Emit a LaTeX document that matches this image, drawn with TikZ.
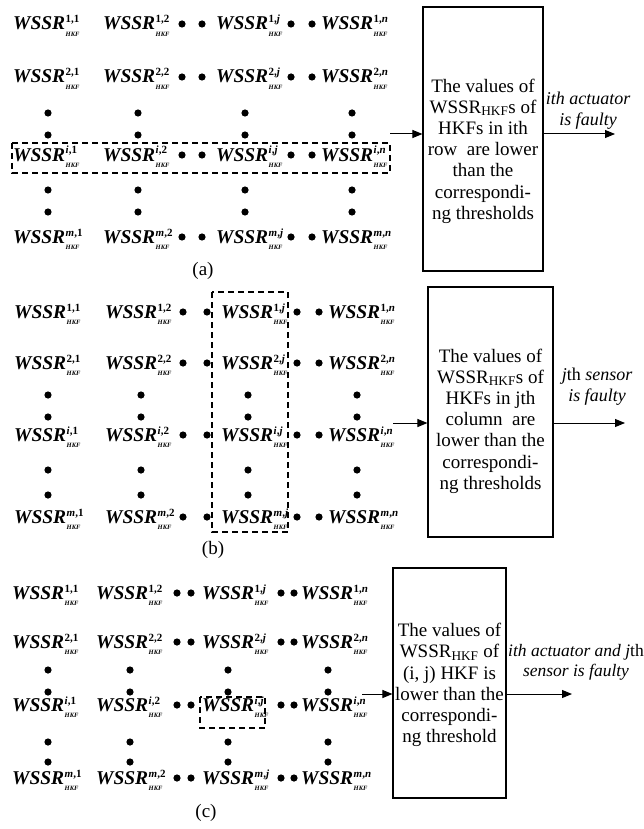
\documentclass[tikz,border=0pt]{standalone}
\usepackage{fontspec}
\setmainfont{Liberation Serif}
\usetikzlibrary{arrows.meta}
\newcommand\wsfont{\fontsize{19.5}{19.5}\selectfont}
\newcommand\ws[1]{\textbf{\textit{WSSR}}\kern0.5pt\rlap{\raisebox{7pt}{\fontsize{11}{11}\selectfont\bfseries #1}}\raisebox{-6.5pt}{\fontsize{6.5}{6.5}\selectfont\bfseries\itshape HKF}}
\begin{document}
\begin{tikzpicture}[x=1pt,y=-1pt,
  wsn/.style={anchor=base west,inner sep=0pt,font=\wsfont},
  dotf/.style={fill=black},
  selbox/.style={draw,dash pattern=on 6pt off 4pt,line width=1.1pt},
  bigbox/.style={draw,line width=1.1pt,inner sep=0pt},
  boxtext/.style={align=center,inner sep=0pt,font=\fontsize{19}{21.2}\selectfont},
  arr/.style={line width=1pt,-{Triangle[length=10pt,width=8pt]}},
  lab/.style={align=center,inner sep=0pt,font=\fontsize{18}{21}\selectfont\itshape},
  captext/.style={inner sep=0pt,font=\fontsize{19}{19}\selectfont}]
\useasboundingbox (0,0) rectangle (643,829);

% ---------------- panel (a)
\foreach \r/\rs/\y in {1/1/30, 2/2/83, i/{\textit{i}}/161, m/{\textit{m}}/243} {
  \foreach \c/\cs/\x in {1/1/13, 2/2/103, j/{\textit{j}}/216, n/{\textit{n}}/321}
    \node[wsn] (a-\r-\c) at (\x,\y) {\ws{\rs,\cs}};
  \foreach \x in {182,202,291,312} \fill[dotf] (\x,\y-6) circle[radius=3.6pt];
}
\foreach \x in {48,138,245,352}
  \foreach \y in {113,135,190,212} \fill[dotf] (\x,\y) circle[radius=3.6pt];
\draw[selbox] (12,143) rectangle (390,173);
\node[bigbox,minimum width=120pt,minimum height=264pt] (boxa) at (483,139) {};
\node[boxtext] (ta) at (483,151) {The values of\\WSSR\textsubscript{HKF}s of\\HKFs in ith\\row\ \ are lower\\than the\\correspondi-\\ng thresholds};
\coordinate (ina) at (390,134);
\coordinate (outa) at (615,134);
\draw[arr] (ina) -- (ina -| boxa.west);
\draw[arr] (boxa.east |- ina) -- (outa);
\node[lab] (laba) at (588,111) {ith actuator\\is faulty};
\node[captext] (capa) at (203,271) {(a)};

% ---------------- panel (b)
\foreach \r/\rs/\y in {1/1/318, 2/2/369, i/{\textit{i}}/441, m/{\textit{m}}/523} {
  \foreach \c/\cs/\x in {1/1/14, 2/2/105, j/{\textit{j}}/221, n/{\textit{n}}/328}
    \node[wsn] (b-\r-\c) at (\x,\y) {\ws{\rs,\cs}};
  \foreach \x in {183,207,297,319} \fill[dotf] (\x,\y-6) circle[radius=3.6pt];
}
\foreach \x in {48,141,248,357}
  \foreach \y in {395,417,470,495} \fill[dotf] (\x,\y) circle[radius=3.6pt];
\draw[selbox] (212,292) rectangle (288,532);
\node[bigbox,minimum width=125pt,minimum height=250pt] (boxb) at (490.5,412) {};
\node[boxtext] (tb) at (490.5,421) {The values of\\WSSR\textsubscript{HKF}s of\\HKFs in jth\\column\ \ are\\lower than the\\correspondi-\\ng thresholds};
\coordinate (inb) at (393,423);
\coordinate (outb) at (625,423);
\draw[arr] (inb) -- (inb -| boxb.west);
\draw[arr] (boxb.east |- inb) -- (outb);
\node[lab] (labb) at (597,387) {\textit{j}\textup{th} sensor\\is faulty};
\node[captext] (capb) at (213,550) {(b)};

% ---------------- panel (c)
\foreach \r/\rs/\y in {1/1/599, 2/2/648, i/{\textit{i}}/711, m/{\textit{m}}/784} {
  \foreach \c/\cs/\x in {1/1/12, 2/2/96, j/{\textit{j}}/202, n/{\textit{n}}/301}
    \node[wsn] (c-\r-\c) at (\x,\y) {\ws{\rs,\cs}};
  \foreach \x in {177,191,281,294} \fill[dotf] (\x,\y-6) circle[radius=3.6pt];
}
\foreach \x in {48,130,228,328}
  \foreach \y in {670,692,742,762} \fill[dotf] (\x,\y) circle[radius=3.6pt];
\draw[selbox] (200,697) rectangle (265,728);
\node[bigbox,minimum width=113pt,minimum height=230pt] (boxc) at (449.5,683) {};
\node[boxtext] (tc) at (449.5,685) {The values of\\WSSR\textsubscript{HKF} of\\(i, j) HKF is\\lower than the\\correspondi-\\ng threshold};
\coordinate (inc) at (362,694);
\coordinate (outc) at (572,694);
\draw[arr] (inc) -- (inc -| boxc.west);
\draw[arr] (boxc.east |- inc) -- (outc);
\node[lab,font=\fontsize{17.5}{20}\selectfont\itshape] (labc) at (576,662) {ith actuator and \textit{j}\textup{th}\\sensor is faulty};
\node[captext] (capc) at (206,813) {(c)};
\end{tikzpicture}
\end{document}
